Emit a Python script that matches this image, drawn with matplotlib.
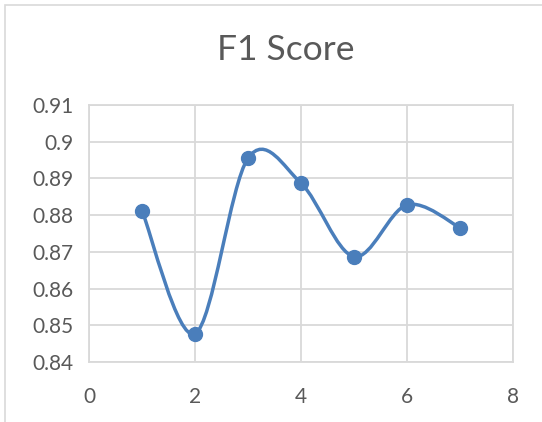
import numpy as np
import matplotlib
matplotlib.use('Agg')
from matplotlib import pyplot as plt
from matplotlib.path import Path
from matplotlib.patches import PathPatch, Rectangle

plt.rcParams['font.family'] = ['Lato', 'DejaVu Sans']

runs = [1, 2, 3, 4, 5, 6, 7]
f1 = [0.8812, 0.8477, 0.8955, 0.8887, 0.8687, 0.8828, 0.8766]
xticks = [0, 2, 4, 6, 8]
yticks = [0.84, 0.85, 0.86, 0.87, 0.88, 0.89, 0.9, 0.91]
ylabels = ['0.84', '0.85', '0.86', '0.87', '0.88', '0.89', '0.9', '0.91']

blue = '#4a7ebb'
grey = '#595959'
grid = '#d9d9d9'

fig = plt.figure(figsize=(5.42, 4.22), dpi=100)
fig.patches.append(Rectangle((5 / 542, -0.1), 1.2, 1 - 5 / 422 + 0.1,
                             transform=fig.transFigure, fill=False,
                             edgecolor=grid, linewidth=1.2))
ax = fig.add_axes([89 / 542, 1 - 362 / 422, 424 / 542, 257 / 422])

# smoothed line through the points (catmull-rom as cubic bezier segments)
pts = np.column_stack([runs, f1])
ext = np.vstack([pts[0], pts, pts[-1]])
verts = [tuple(pts[0])]
codes = [Path.MOVETO]
for i in range(len(pts) - 1):
    p0, p1, p2, p3 = ext[i], ext[i + 1], ext[i + 2], ext[i + 3]
    c1 = p1 + (p2 - p0) / 6
    c2 = p2 - (p3 - p1) / 6
    verts += [tuple(c1), tuple(c2), tuple(p2)]
    codes += [Path.CURVE4] * 3
ax.add_patch(PathPatch(Path(verts, codes), fill=False, edgecolor=blue,
                       linewidth=2.5, zorder=3, capstyle='round'))
ax.plot(runs, f1, 'o', color=blue, markersize=10, zorder=4)

ax.set_xlim(0, 8)
ax.set_ylim(0.84, 0.91)
ax.set_xticks(xticks)
ax.set_yticks(yticks)
ax.set_yticklabels(ylabels)
ax.grid(True, color=grid, linewidth=1.3)
ax.set_axisbelow(True)
for s in ax.spines.values():
    s.set_color(grid)
    s.set_linewidth(1.3)
ax.tick_params(length=0, labelsize=15, colors=grey)
ax.tick_params(axis='y', pad=11)
ax.tick_params(axis='x', pad=18)

fig.text(0.528, 1 - 50 / 422, 'F1 Score', ha='center', va='center',
         fontsize=25.5, color=grey)

plt.savefig('out.png', dpi=100)
